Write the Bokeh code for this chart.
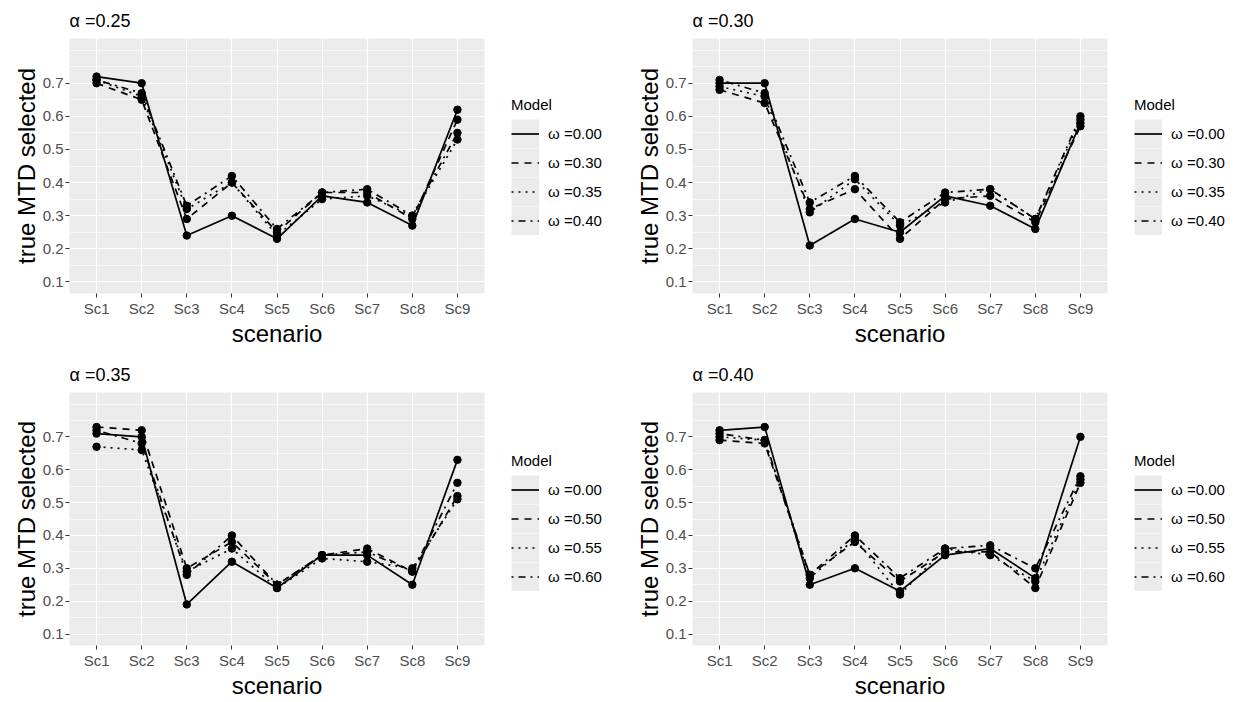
from bokeh.plotting import figure
from bokeh.layouts import row, column
from bokeh.models import FixedTicker, Legend, LegendItem, Range1d
from bokeh.embed import file_html
from bokeh.resources import INLINE

scenarios = ["Sc1", "Sc2", "Sc3", "Sc4", "Sc5", "Sc6", "Sc7", "Sc8", "Sc9"]
xpos = list(range(1, 10))
y_ticks = [0.1, 0.2, 0.3, 0.4, 0.5, 0.6, 0.7]
y_minor = [0.15, 0.25, 0.35, 0.45, 0.55, 0.65, 0.75, 0.8]

titles = ["α =0.25", "α =0.30", "α =0.35", "α =0.40"]
labels_top = ["ω =0.00", "ω =0.30", "ω =0.35", "ω =0.40"]
labels_bottom = ["ω =0.00", "ω =0.50", "ω =0.55", "ω =0.60"]

# alpha = 0.25
a25_w00 = [0.72, 0.70, 0.24, 0.30, 0.23, 0.36, 0.34, 0.27, 0.62]
a25_w30 = [0.70, 0.65, 0.29, 0.40, 0.25, 0.37, 0.37, 0.29, 0.59]
a25_w35 = [0.71, 0.66, 0.32, 0.40, 0.24, 0.35, 0.36, 0.30, 0.53]
a25_w40 = [0.71, 0.67, 0.33, 0.42, 0.26, 0.37, 0.38, 0.30, 0.55]
# alpha = 0.30
a30_w00 = [0.70, 0.70, 0.21, 0.29, 0.25, 0.36, 0.33, 0.26, 0.58]
a30_w30 = [0.68, 0.64, 0.32, 0.38, 0.23, 0.35, 0.36, 0.28, 0.57]
a30_w35 = [0.69, 0.66, 0.31, 0.41, 0.27, 0.34, 0.38, 0.29, 0.59]
a30_w40 = [0.71, 0.67, 0.34, 0.42, 0.28, 0.37, 0.38, 0.29, 0.60]
# alpha = 0.35
a35_w00 = [0.71, 0.70, 0.19, 0.32, 0.24, 0.34, 0.34, 0.25, 0.63]
a35_w50 = [0.73, 0.72, 0.30, 0.38, 0.25, 0.34, 0.36, 0.29, 0.52]
a35_w55 = [0.67, 0.66, 0.29, 0.36, 0.24, 0.33, 0.32, 0.30, 0.51]
a35_w60 = [0.72, 0.68, 0.28, 0.40, 0.25, 0.34, 0.35, 0.29, 0.56]
# alpha = 0.40
a40_w00 = [0.72, 0.73, 0.25, 0.30, 0.23, 0.34, 0.36, 0.27, 0.70]
a40_w50 = [0.69, 0.68, 0.28, 0.38, 0.26, 0.35, 0.35, 0.24, 0.56]
a40_w55 = [0.70, 0.69, 0.27, 0.39, 0.22, 0.36, 0.34, 0.26, 0.57]
a40_w60 = [0.71, 0.69, 0.28, 0.40, 0.27, 0.36, 0.37, 0.30, 0.58]

FONT = "Liberation Sans"
DASHES = ["solid", "7 6", "2 5", "2 5 7 5"]


def make_panel(title, series, left, right, top, bottom, fw, fh):
    p = figure(width=left + fw + right, height=top + fh + bottom,
               x_range=Range1d(0.4, 9.6), y_range=Range1d(0.065, 0.835),
               output_backend="svg", toolbar_location=None,
               min_border_left=left, min_border_right=right,
               min_border_top=top, min_border_bottom=bottom,
               background_fill_color="#EBEBEB", border_fill_color="white",
               outline_line_color=None, title=title)
    p.title.text_font = FONT
    p.title.text_font_size = "18px"
    p.title.text_font_style = "normal"
    p.title.text_color = "black"
    p.title.offset = 0
    p.title.standoff = 15

    p.xaxis.ticker = FixedTicker(ticks=xpos)
    p.xaxis.major_label_overrides = {x: s for x, s in zip(xpos, scenarios)}
    p.yaxis.ticker = FixedTicker(ticks=y_ticks, minor_ticks=y_minor)
    p.yaxis.major_label_overrides = {v: f"{v:.1f}" for v in y_ticks}
    for ax in (p.xaxis, p.yaxis):
        ax.axis_line_color = None
        ax.major_tick_line_color = "#333333"
        ax.major_tick_in = 0
        ax.major_tick_out = 4
        ax.minor_tick_line_color = None
        ax.major_label_text_font = FONT
        ax.major_label_text_font_size = "15px"
        ax.major_label_text_color = "#4D4D4D"
        ax.axis_label_text_font = FONT
        ax.axis_label_text_font_size = "24px"
        ax.axis_label_text_font_style = "normal"
        ax.axis_label_text_color = "black"
        ax.major_label_standoff = 2
        ax.axis_label_standoff = 0
    p.xaxis.axis_label = "scenario"
    p.yaxis.axis_label = "true MTD selected"

    p.xgrid.grid_line_color = "white"
    p.xgrid.grid_line_width = 1.2
    p.ygrid.grid_line_color = "white"
    p.ygrid.grid_line_width = 1.2
    p.ygrid.minor_grid_line_color = "white"
    p.ygrid.minor_grid_line_width = 0.6

    for vals, dash in zip(series, DASHES):
        p.line(x=xpos, y=vals, line_color="black", line_width=1.7,
               line_dash=dash)
        p.scatter(x=xpos, y=vals, size=7.5, color="black")
    return p


def make_legend(labels, series, w, h, ly):
    q = figure(width=w, height=h, x_range=Range1d(0.4, 9.6),
               y_range=Range1d(0.065, 0.835), x_axis_type=None,
               y_axis_type=None, output_backend="svg", toolbar_location=None,
               min_border=0, background_fill_color="white",
               border_fill_color="white", outline_line_color=None)
    q.grid.visible = False
    # single-point lines: invisible in the frame, drawn only as legend keys
    bg = q.line(x=xpos[:1], y=series[0][:1], line_color="#EBEBEB",
                line_width=29, line_cap="butt")
    items = []
    for vals, dash, lab in zip(series, DASHES, labels):
        r = q.line(x=xpos[:1], y=vals[:1], line_color="black",
                   line_width=1.7, line_dash=dash, line_cap="butt")
        items.append(LegendItem(label=lab, renderers=[bg, r]))
    leg = Legend(items=items, location=(0, ly), title="Model",
                 title_text_font=FONT, title_text_font_size="15px",
                 title_text_font_style="normal", title_text_color="black",
                 title_standoff=6,
                 label_text_font=FONT, label_text_font_size="15px",
                 label_text_color="black", label_standoff=9,
                 glyph_width=28, glyph_height=29, spacing=0,
                 padding=0, margin=0, border_line_color=None,
                 background_fill_alpha=0)
    q.add_layout(leg, "center")
    return q


s1 = [a25_w00, a25_w30, a25_w35, a25_w40]
s2 = [a30_w00, a30_w30, a30_w35, a30_w40]
s3 = [a35_w00, a35_w50, a35_w55, a35_w60]
s4 = [a40_w00, a40_w50, a40_w55, a40_w60]

p1 = make_panel(titles[0], s1, 69, 27, 38, 58, 415, 255)
l1 = make_legend(labels_top, s1, 109, 351, 58)
p2 = make_panel(titles[1], s2, 72, 27, 38, 58, 415, 255)
l2 = make_legend(labels_top, s2, 106, 351, 58)
p3 = make_panel(titles[2], s3, 69, 27, 41, 54, 415, 255)
l3 = make_legend(labels_bottom, s3, 109, 350, 54)
p4 = make_panel(titles[3], s4, 72, 27, 41, 54, 415, 255)
l4 = make_legend(labels_bottom, s4, 106, 350, 54)

layout = column(row(p1, l1, p2, l2), row(p3, l3, p4, l4))
open("out.html", "w").write(file_html(layout, INLINE))
